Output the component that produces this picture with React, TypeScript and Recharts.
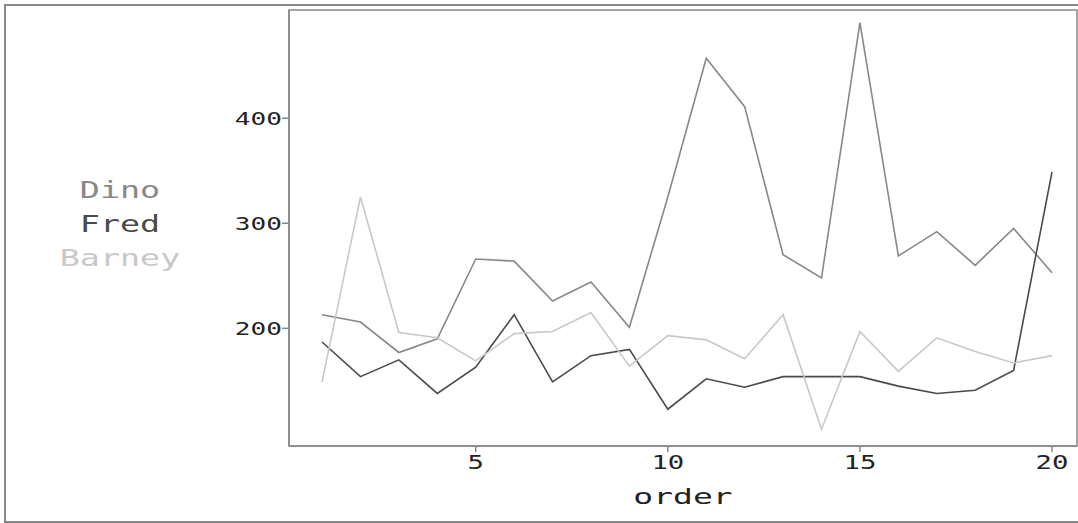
import React from "react";
import { LineChart, Line, XAxis, YAxis, Legend, ReferenceArea } from "recharts";

const order = [1, 2, 3, 4, 5, 6, 7, 8, 9, 10, 11, 12, 13, 14, 15, 16, 17, 18, 19, 20];
const dino = [213, 206, 177, 190, 266, 264, 226, 244, 201, 325, 457, 411, 270, 248, 491, 269, 292, 260, 295, 253];
const fred = [187, 154, 170, 138, 163, 213, 149, 174, 180, 123, 152, 144, 154, 154, 154, 145, 138, 141, 160, 349];
const barney = [149, 325, 196, 191, 169, 195, 197, 215, 164, 193, 189, 171, 213, 104, 197, 159, 191, 178, 167, 174];

const seriesNames = ["Dino", "Fred", "Barney"];
const xTicks = [5, 10, 15, 20];
const yTicks = [200, 300, 400];
const xDomain = [0.14, 20.65];
const yDomain = [88, 503];

const data = order.map((o, i) => ({ order: o, Dino: dino[i], Fred: fred[i], Barney: barney[i] }));

const mono = "DejaVu Sans Mono";
const frame = "#888";
const ink = "#222";

function YTick(props: any) {
  const { x, y, payload } = props;
  return (
    <g transform={`translate(${x},${y})`}>
      <text transform="scale(1.45,1)" textAnchor="end" dy="0.36em" fontFamily={mono} fontSize={18} fill={ink}>
        {payload.value}
      </text>
    </g>
  );
}

function XTick(props: any) {
  const { x, y, payload } = props;
  return (
    <g transform={`translate(${x},${y})`}>
      <text transform="scale(1.4,1)" textAnchor="middle" dy="0.71em" fontFamily={mono} fontSize={19.5} fill={ink}>
        {payload.value}
      </text>
    </g>
  );
}

function OrderLabel(props: any) {
  const vb = props.viewBox || {};
  const cx = vb.x + vb.width / 2;
  return (
    <g transform={`translate(${cx},${vb.y + 58})`}>
      <text transform="scale(1.5,1)" textAnchor="middle" fontFamily={mono} fontSize={22} fill={ink}>
        order
      </text>
    </g>
  );
}

function LegendNames(props: any) {
  const items = [...(props.payload || [])].sort(
    (a: any, b: any) => seriesNames.indexOf(a.value) - seriesNames.indexOf(b.value)
  );
  return (
    <div style={{ fontFamily: mono, fontSize: 23.5, lineHeight: "34px", textAlign: "center" }}>
      {items.map((entry: any) => (
        <div key={entry.value} style={{ color: entry.color, transform: "scaleX(1.42)" }}>
          {entry.value}
        </div>
      ))}
    </div>
  );
}

export default function App() {
  return (
    <div style={{ position: "relative", width: 1078, height: 523, overflow: "hidden", background: "#fff" }}>
      <style>{"body{margin:0}"}</style>
      <div
        style={{
          position: "absolute",
          left: 4,
          top: 4,
          width: 1090,
          height: 519,
          boxSizing: "border-box",
          border: `2px solid ${frame}`,
        }}
      />
      <div style={{ position: "absolute", left: 0, top: 0 }}>
        <LineChart width={1078} height={523} data={data} margin={{ top: 10, right: 1, left: 0, bottom: 0 }}>
          <XAxis
            dataKey="order"
            type="number"
            domain={xDomain}
            ticks={xTicks}
            height={77}
            stroke={frame}
            strokeWidth={1.5}
            tickSize={6}
            tickMargin={3}
            tick={<XTick />}
            label={<OrderLabel />}
            allowDataOverflow
          />
          <YAxis
            type="number"
            domain={yDomain}
            ticks={yTicks}
            width={289}
            stroke={frame}
            strokeWidth={1.5}
            tickSize={7}
            tickMargin={0}
            tick={<YTick />}
            allowDataOverflow
          />
          <ReferenceArea
            x1={xDomain[0]}
            x2={xDomain[1]}
            y1={yDomain[0]}
            y2={yDomain[1]}
            fill="none"
            stroke={frame}
            strokeWidth={1.5}
            fillOpacity={0}
          />
          <Legend
            layout="vertical"
            align="center"
            verticalAlign="middle"
            content={<LegendNames />}
            wrapperStyle={{ left: 0, top: 173, width: 240 }}
          />
          <Line dataKey="Dino" stroke="#888" strokeWidth={1.6} dot={false} isAnimationActive={false} />
          <Line dataKey="Fred" stroke="#4a4a4a" strokeWidth={1.6} dot={false} isAnimationActive={false} />
          <Line dataKey="Barney" stroke="#c8c8c8" strokeWidth={1.6} dot={false} isAnimationActive={false} />
        </LineChart>
      </div>
    </div>
  );
}
